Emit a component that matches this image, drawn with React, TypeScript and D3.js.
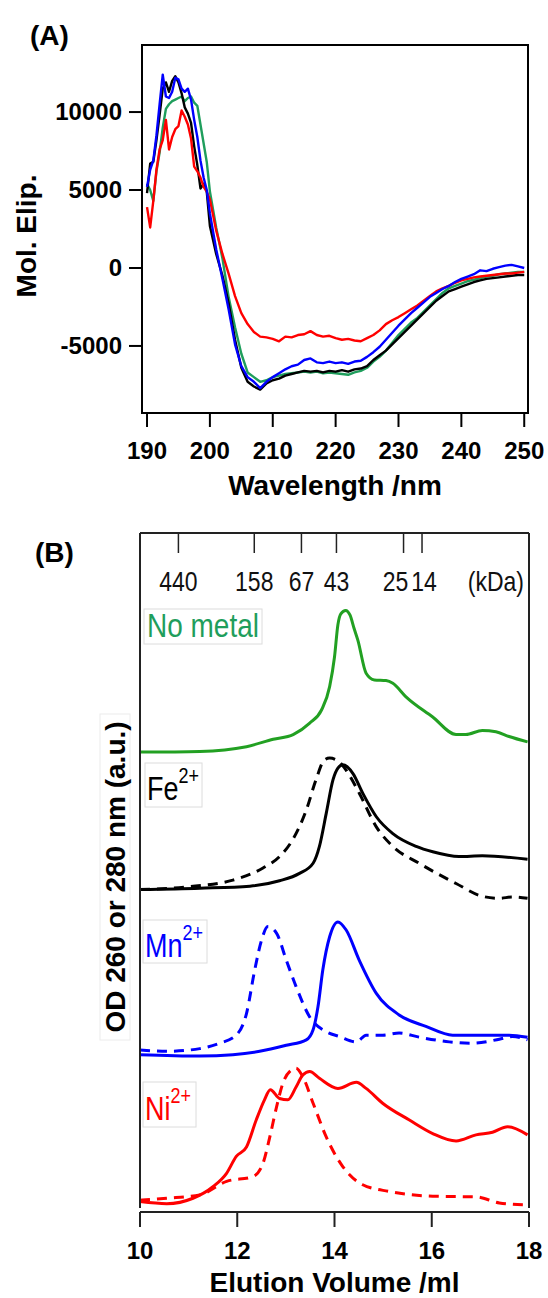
import React from "react";
import * as d3 from "d3";

// ---- panel A : CD spectra ----
const wavelengths = [
  190, 190.5, 191, 191.5, 192, 192.5, 193, 193.5, 194, 194.5, 195, 195.5, 196, 196.5, 197, 197.5, 198, 198.5, 199, 199.5, 200,
  201, 202, 203, 204, 205, 206, 207, 208, 209, 210, 211, 212, 213, 214, 215, 216, 217, 218, 219, 220,
  221, 222, 223, 224, 225, 226, 227, 228, 229, 230, 231, 232, 233, 234, 235, 236, 237, 238, 239, 240,
  241, 242, 243, 244, 245, 246, 247, 248, 249, 250,
];

const cdNoMetal = [
  5400, 5000, 4300, 6200, 7400, 9000, 10200, 10500, 10700, 10800, 10900, 11000, 10700, 10900, 11000, 10600, 10400, 9200, 8000, 6800, 4900,
  2600, 600, -1900, -3800, -5500, -6700, -7000, -7300, -7200, -7000, -6900, -6800, -6750, -6700, -6650, -6700, -6650, -6750, -6700, -6750,
  -6800, -6850, -6700, -6600, -6400, -6000, -5700, -5300, -4800, -4300, -3900, -3500, -3200, -2800, -2400, -2000, -1600, -1300, -1150, -1000,
  -850, -750, -650, -550, -500, -400, -350, -300, -250, -250,
];

const cdFe = [
  4800, 6700, 6800, 8200, 9800, 11500, 11900, 11300, 12000, 12300, 11900, 11200, 10300, 9900, 9300, 7800, 6600, 5100, 5400, 4900, 2700,
  900, -500, -2300, -4600, -6400, -7300, -7600, -7800, -7400, -7200, -7100, -6900, -6800, -6700, -6600, -6650, -6600, -6700, -6600, -6650,
  -6550, -6650, -6500, -6450, -6300, -5900, -5600, -5300, -4900, -4500, -4100, -3700, -3300, -2900, -2500, -2100, -1800, -1500, -1350, -1200,
  -1050, -900, -800, -700, -650, -600, -550, -500, -450, -450,
];

const cdMn = [
  5200, 6300, 6900, 8500, 10500, 12400, 11000, 10900, 11300, 12200, 12100, 11500, 11300, 11500, 10800, 9500, 8400, 6900, 5800, 5000, 3500,
  1200, -700, -2700, -4900, -6300, -7000, -7300, -7700, -7300, -7000, -6750, -6500, -6300, -6200, -5900, -5800, -6050, -6100, -6000, -6100,
  -6050, -6150, -6000, -5950, -5700, -5400, -5050, -4600, -4150, -3700, -3300, -2900, -2550, -2200, -1850, -1600, -1350, -1150, -900, -700,
  -550, -400, -150, -200, -50, 50, 150, 200, 100, 0,
];

const cdNi = [
  3900, 2600, 4300, 6300, 7600, 8200, 9500, 7600, 8400, 8900, 9100, 10100, 9700, 9200, 8300, 6500, 6200, 5800, 5200, 4900, 4400,
  2400, 900, -400, -1800, -2900, -3600, -4100, -4400, -4450, -4550, -4700, -4400, -4450, -4300, -4250, -4050, -4300, -4400, -4350, -4500,
  -4600, -4550, -4650, -4700, -4500, -4300, -4000, -3600, -3350, -3150, -2900, -2650, -2400, -2100, -1800, -1500, -1300, -1150, -950, -800,
  -700, -600, -550, -500, -450, -400, -350, -350, -300, -250,
];

const cdTicksX = [190, 200, 210, 220, 230, 240, 250];
const cdTicksY = [-5000, 0, 5000, 10000];

// ---- panel B : size exclusion chromatography ----
const secNoMetal = [
  [10.0, 6.75], [11.23, 6.76], [12.19, 6.83], [12.74, 6.94], [13.15, 7.01], [13.49, 7.18], [13.73, 7.37], [13.9, 7.72],
  [14.0, 8.16], [14.07, 8.64], [14.13, 8.8], [14.23, 8.85], [14.32, 8.78], [14.4, 8.59], [14.48, 8.41], [14.65, 7.92],
  [14.82, 7.82], [15.06, 7.81], [15.2, 7.77], [15.47, 7.57], [16.02, 7.27], [16.5, 7.01], [16.7, 7.01], [17.04, 7.07],
  [17.32, 7.05], [17.59, 6.98], [17.97, 6.9],
];

const secFe = [
  [10.0, 4.71], [11.23, 4.73], [12.26, 4.76], [12.87, 4.84], [13.28, 4.95], [13.56, 5.1], [13.69, 5.35], [13.83, 5.84],
  [13.97, 6.34], [14.07, 6.51], [14.17, 6.56], [14.38, 6.43], [14.58, 6.14], [14.86, 5.79], [15.2, 5.54], [15.68, 5.35],
  [16.02, 5.27], [16.56, 5.2], [17.04, 5.21], [17.97, 5.16],
];

const secFeDashed = [
  [10.0, 4.71], [10.96, 4.75], [11.91, 4.85], [12.53, 5.03], [12.87, 5.2], [13.14, 5.45], [13.42, 5.89], [13.62, 6.34],
  [13.79, 6.63], [13.9, 6.66], [14.07, 6.62], [14.24, 6.48], [14.51, 6.14], [14.86, 5.64], [15.2, 5.35], [15.74, 5.1],
  [16.5, 4.8], [17.04, 4.61], [17.39, 4.58], [17.66, 4.6], [17.97, 4.58],
];

const secMn = [
  [10.0, 2.26], [11.23, 2.24], [11.91, 2.26], [12.46, 2.31], [13.01, 2.4], [13.42, 2.48], [13.56, 2.63], [13.66, 2.97],
  [13.76, 3.52], [13.9, 4.01], [14.07, 4.23], [14.24, 4.11], [14.51, 3.66], [14.86, 3.17], [15.33, 2.85], [15.88, 2.68],
  [16.43, 2.55], [17.04, 2.55], [17.59, 2.55], [17.97, 2.52],
];

const secMnDashed = [
  [10.0, 2.33], [10.55, 2.31], [11.23, 2.35], [11.64, 2.43], [11.98, 2.55], [12.19, 2.87], [12.36, 3.52], [12.5, 3.96],
  [12.63, 4.16], [12.81, 4.06], [13.01, 3.66], [13.21, 3.27], [13.49, 2.82], [13.83, 2.6], [14.1, 2.53], [14.45, 2.45],
  [14.65, 2.55], [14.99, 2.55], [15.33, 2.58], [15.74, 2.52], [16.36, 2.45], [16.84, 2.43], [17.39, 2.49], [17.66, 2.53],
  [17.97, 2.48],
];

const secNi = [
  [10.0, 0.08], [10.55, 0.05], [11.09, 0.13], [11.5, 0.3], [11.78, 0.5], [11.98, 0.75], [12.19, 0.89], [12.39, 1.29],
  [12.56, 1.59], [12.68, 1.74], [12.87, 1.61], [13.04, 1.59], [13.21, 1.78], [13.35, 1.96], [13.49, 2.01], [13.69, 1.91],
  [14.07, 1.76], [14.45, 1.85], [14.65, 1.76], [14.99, 1.54], [15.54, 1.29], [16.02, 1.09], [16.5, 0.98], [16.91, 1.07],
  [17.25, 1.11], [17.56, 1.19], [17.97, 1.07],
];

const secNiDashed = [
  [10.0, 0.1], [10.55, 0.13], [11.23, 0.18], [11.78, 0.38], [12.32, 0.45], [12.53, 0.65], [12.67, 1.04], [12.81, 1.49],
  [12.94, 1.84], [13.11, 2.03], [13.21, 2.06], [13.35, 1.93], [13.56, 1.54], [13.83, 1.04], [14.17, 0.6], [14.58, 0.33],
  [15.13, 0.23], [16.02, 0.16], [16.91, 0.15], [17.39, 0.06], [17.97, 0.03],
];

const secTicksX = [10, 12, 14, 16, 18];
const kdaLabels = ["440", "158", "67", "43", "25", "14"];
const kdaVolumes = [10.79, 12.35, 13.32, 14.04, 15.42, 15.8];
const kdaShift = [0, 0, 0, 0, -8, 2];

const FONT = "'Liberation Sans', Arial, Helvetica, sans-serif";
const GREEN_A = "#1f9e5c";
const GREEN_B = "#22a022";
const BLUE = "#0000ff";
const RED = "#ff0000";
const STRETCH = 1.2; // panel B text is drawn a bit taller than wide

export default function App() {
  // panel A
  const xA = d3.scaleLinear().domain([189.2, 250.6]).range([142, 528]);
  const yA = d3.scaleLinear().domain([-9300, 14300]).range([413, 45]);
  const lineA = (vals: number[]) =>
    d3
      .line<number>()
      .x((_, i) => xA(wavelengths[i]))
      .y((d) => yA(d))(vals) || "";

  // panel B
  const xB = d3.scaleLinear().domain([10, 18]).range([140, 529]);
  const yB = d3.scaleLinear().domain([0, 10]).range([1207, 533]);
  const lineB = d3
    .line<number[]>()
    .x((d) => xB(d[0]))
    .y((d) => yB(d[1]))
    .curve(d3.curveMonotoneX);

  const [a0, a1] = xA.range();
  const [aBot, aTop] = yA.range();
  const [b0, b1] = xB.range();
  const [bBot, bTop] = yB.range();

  const cdSeries = [
    { vals: cdNoMetal, color: GREEN_A },
    { vals: cdFe, color: "#000" },
    { vals: cdNi, color: RED },
    { vals: cdMn, color: BLUE },
  ];

  const secSeries = [
    { d: secNoMetal, color: GREEN_B, dash: false },
    { d: secFeDashed, color: "#000", dash: true },
    { d: secFe, color: "#000", dash: false },
    { d: secMnDashed, color: BLUE, dash: true },
    { d: secMn, color: BLUE, dash: false },
    { d: secNiDashed, color: RED, dash: true },
    { d: secNi, color: RED, dash: false },
  ];

  const tall = (x: number, y: number) => `translate(${x},${y}) scale(1,${STRETCH})`;

  return (
    <svg
      width={548}
      height={1298}
      style={{ position: "absolute", left: 0, top: 0, background: "#fff" }}
      fontFamily={FONT}
    >
      <rect x={0} y={0} width={548} height={1298} fill="#fff" />

      {/* ---------- (A) ---------- */}
      <text x={30} y={45} fontSize={28} fontWeight="bold">(A)</text>

      {cdSeries.map((s, i) => (
        <path key={i} d={lineA(s.vals)} fill="none" stroke={s.color} strokeWidth={2.4} strokeLinejoin="round" />
      ))}

      <rect x={a0} y={aTop} width={a1 - a0} height={aBot - aTop} fill="none" stroke="#000" strokeWidth={2} />

      {cdTicksY.map((t) => (
        <g key={t}>
          <line x1={a0 - 13} x2={a0} y1={yA(t)} y2={yA(t)} stroke="#000" strokeWidth={2} />
          <text x={a0 - 20} y={yA(t)} dy="0.35em" textAnchor="end" fontSize={24} fontWeight="bold">
            {t}
          </text>
        </g>
      ))}
      {cdTicksX.map((t) => (
        <g key={t}>
          <line x1={xA(t)} x2={xA(t)} y1={aBot} y2={aBot + 14} stroke="#000" strokeWidth={2} />
          <text x={xA(t)} y={aBot + 46} textAnchor="middle" fontSize={24} fontWeight="bold">
            {t}
          </text>
        </g>
      ))}
      <text x={(a0 + a1) / 2} y={495} textAnchor="middle" fontSize={28} fontWeight="bold">
        Wavelength /nm
      </text>
      <text
        transform={`translate(36, ${(aTop + aBot) / 2 + 7}) rotate(-90)`}
        textAnchor="middle"
        fontSize={28}
        fontWeight="bold"
      >
        Mol. Elip.
      </text>

      {/* ---------- (B) ---------- */}
      <text x={35} y={562} fontSize={28} fontWeight="bold">(B)</text>

      {secSeries.map((s, i) => (
        <path
          key={i}
          d={lineB(s.d) || ""}
          fill="none"
          stroke={s.color}
          strokeWidth={3}
          strokeDasharray={s.dash ? "10 7" : undefined}
          strokeLinejoin="round"
        />
      ))}

      {/* frame */}
      <line x1={b0} x2={b1} y1={bTop} y2={bTop} stroke="#222" strokeWidth={2} />
      <line x1={b0} x2={b0} y1={bTop} y2={bBot + 1} stroke="#222" strokeWidth={2} />
      <line x1={b1} x2={b1} y1={bTop} y2={bBot + 1} stroke="#222" strokeWidth={2} />

      {/* top molecular weight markers */}
      {kdaVolumes.map((v, i) => (
        <g key={kdaLabels[i]}>
          <line x1={xB(v)} x2={xB(v)} y1={bTop} y2={bTop + 20} stroke="#222" strokeWidth={1.5} />
          <text transform={tall(xB(v) + kdaShift[i], 591)} textAnchor="middle" fontSize={23} fill="#111">
            {kdaLabels[i]}
          </text>
        </g>
      ))}
      <text transform={tall(b1 - 5, 591)} textAnchor="end" fontSize={23} fill="#111">(kDa)</text>

      {/* bottom axis */}
      <line x1={b0} x2={b1} y1={bBot + 5} y2={bBot + 5} stroke="#222" strokeWidth={2} />
      {secTicksX.map((t) => (
        <g key={t}>
          <line x1={xB(t)} x2={xB(t)} y1={bBot + 5} y2={bBot + 20} stroke="#222" strokeWidth={2} />
          <text x={xB(t)} y={1259} textAnchor="middle" fontSize={24} fontWeight="bold">
            {t}
          </text>
        </g>
      ))}
      <text x={(b0 + b1) / 2} y={1292} textAnchor="middle" fontSize={28} fontWeight="bold">
        Elution Volume /ml
      </text>

      <rect x={100} y={714} width={30} height={326} fill="#fff" stroke="#ececec" strokeWidth={1} />
      <text
        transform={`translate(125, 877) rotate(-90)`}
        textAnchor="middle"
        fontSize={28}
        fontWeight="bold"
      >
        OD 260 or 280 nm (a.u.)
      </text>

      {/* trace labels */}
      <rect x={144} y={609} width={118} height={35} fill="#fff" stroke="#dcdcdc" />
      <text transform={tall(147, 637)} fontSize={28} fill={GREEN_A}>No metal</text>

      <rect x={145} y={763} width={57} height={44} fill="#fff" stroke="#dcdcdc" />
      <text transform={tall(147, 800)} fontSize={27} fill="#000">
        Fe<tspan dy={-14} fontSize={18}>2+</tspan>
      </text>

      <rect x={143} y={920} width={64} height={43} fill="#fff" stroke="#dcdcdc" />
      <text transform={tall(145, 957)} fontSize={27} fill={BLUE}>
        Mn<tspan dy={-14} fontSize={18}>2+</tspan>
      </text>

      <rect x={143} y={1082} width={53} height={45} fill="#fff" stroke="#dcdcdc" />
      <text transform={tall(145, 1120)} fontSize={27} fill={RED}>
        Ni<tspan dy={-14} fontSize={18}>2+</tspan>
      </text>
    </svg>
  );
}
